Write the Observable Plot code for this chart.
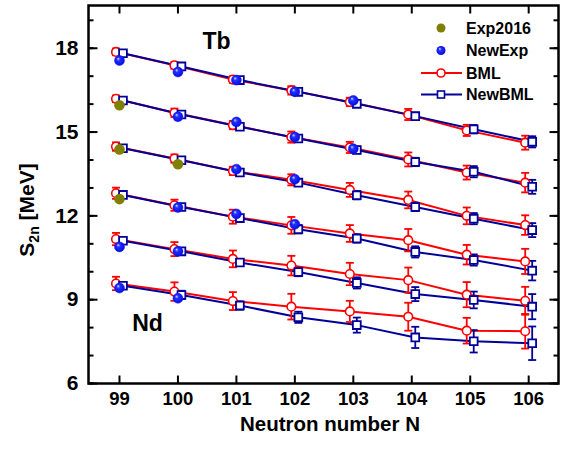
<!DOCTYPE html>
<html>
<head>
<meta charset="utf-8">
<script src="https://cdn.jsdelivr.net/npm/d3@7"></script>
<script src="https://cdn.jsdelivr.net/npm/@observablehq/plot@0.6"></script>
<style>
  body { margin: 0; background: #fff; }
  #chart { width: 568px; height: 452px; }
</style>
</head>
<body>
<div id="chart"></div>
<script>
// ---- data ----
const neutronN = [99, 100, 101, 102, 103, 104, 105, 106];
const chains = ["Tb", "Gd", "Eu", "Sm", "Pm", "Nd"];

// BML predictions (MeV)
const bmlTb = [17.87, 17.39, 16.88, 16.49, 16.08, 15.63, 15.06, 14.62];
const bmlGd = [16.19, 15.69, 15.25, 14.82, 14.45, 14.02, 13.55, 13.19];
const bmlEu = [14.48, 14.05, 13.61, 13.29, 12.93, 12.57, 12.00, 11.67];
const bmlSm = [12.81, 12.38, 11.97, 11.66, 11.37, 11.13, 10.61, 10.37];
const bmlPm = [11.17, 10.81, 10.46, 10.22, 9.92, 9.70, 9.18, 8.96];
const bmlNd = [9.58, 9.29, 8.95, 8.75, 8.58, 8.39, 7.89, 7.87];

// BML uncertainties
const bmlErrTb = [0.12, 0.12, 0.12, 0.15, 0.15, 0.20, 0.20, 0.25];
const bmlErrGd = [0.12, 0.15, 0.15, 0.20, 0.20, 0.25, 0.25, 0.35];
const bmlErrEu = [0.15, 0.15, 0.15, 0.20, 0.25, 0.30, 0.30, 0.35];
const bmlErrSm = [0.20, 0.20, 0.25, 0.30, 0.30, 0.40, 0.35, 0.45];
const bmlErrPm = [0.22, 0.25, 0.30, 0.35, 0.40, 0.45, 0.45, 0.50];
const bmlErrNd = [0.24, 0.33, 0.32, 0.46, 0.38, 0.50, 0.46, 0.62];

// NewBML predictions (MeV)
const newBmlTb = [17.82, 17.35, 16.86, 16.44, 16.01, 15.57, 15.10, 14.65];
const newBmlGd = [16.13, 15.63, 15.19, 14.77, 14.36, 13.93, 13.58, 13.04];
const newBmlEu = [14.42, 13.99, 13.55, 13.19, 12.74, 12.32, 11.90, 11.49];
const newBmlSm = [12.75, 12.32, 11.92, 11.52, 11.19, 10.71, 10.42, 10.04];
const newBmlPm = [11.11, 10.73, 10.33, 9.99, 9.60, 9.20, 8.99, 8.75];
const newBmlNd = [9.50, 9.17, 8.79, 8.37, 8.09, 7.65, 7.51, 7.44];

// NewBML uncertainties
const newBmlErrTb = [0.08, 0.08, 0.08, 0.10, 0.10, 0.12, 0.15, 0.20];
const newBmlErrGd = [0.08, 0.10, 0.10, 0.12, 0.12, 0.15, 0.20, 0.25];
const newBmlErrEu = [0.08, 0.10, 0.10, 0.12, 0.15, 0.15, 0.20, 0.25];
const newBmlErrSm = [0.10, 0.10, 0.12, 0.15, 0.15, 0.20, 0.20, 0.35];
const newBmlErrPm = [0.10, 0.12, 0.12, 0.15, 0.20, 0.25, 0.30, 0.45];
const newBmlErrNd = [0.10, 0.15, 0.15, 0.20, 0.27, 0.38, 0.40, 0.60];

// New experimental values [N, S2n]
const newExpTb = [[99, 17.56], [100, 17.15], [101, 16.86], [102, 16.44], [103, 16.13]];
const newExpGd = [[100, 15.55], [101, 15.36], [102, 14.82], [103, 14.40]];
const newExpEu = [[101, 13.67], [102, 13.31]];
const newExpSm = [[100, 12.30], [101, 12.07], [102, 11.70]];
const newExpPm = [[99, 10.89], [100, 10.73]];
const newExpNd = [[99, 9.42], [100, 9.05]];

// Exp2016 (AME2016) values [N, S2n]
const exp2016Gd = [[99, 15.96]];
const exp2016Eu = [[99, 14.38], [100, 13.85]];
const exp2016Sm = [[99, 12.60]];

// chain labels [label, N, S2n]
const chainLabels = [["Tb", 100.66, 18.25], ["Nd", 99.48, 8.14]];

const yMajor = [6, 9, 12, 15, 18];
const yMinor = d3.range(6, 20, 1);

// ---- tables ----
const bmlAll = [bmlTb, bmlGd, bmlEu, bmlSm, bmlPm, bmlNd];
const bmlErrAll = [bmlErrTb, bmlErrGd, bmlErrEu, bmlErrSm, bmlErrPm, bmlErrNd];
const newBmlAll = [newBmlTb, newBmlGd, newBmlEu, newBmlSm, newBmlPm, newBmlNd];
const newBmlErrAll = [newBmlErrTb, newBmlErrGd, newBmlErrEu, newBmlErrSm, newBmlErrPm, newBmlErrNd];
const newExpAll = [newExpTb, newExpGd, newExpEu, newExpSm, newExpPm, newExpNd];
const exp2016All = [[], exp2016Gd, exp2016Eu, exp2016Sm, [], []];

const bml = [], newBml = [], newExp = [], exp2016 = [];
chains.forEach((c, i) => {
  neutronN.forEach((n, j) => {
    bml.push({chain: c, N: n, S: bmlAll[i][j], e: bmlErrAll[i][j]});
    newBml.push({chain: c, N: n, S: newBmlAll[i][j], e: newBmlErrAll[i][j]});
  });
  newExpAll[i].forEach(([n, s]) => newExp.push({chain: c, N: n, S: s}));
  exp2016All[i].forEach(([n, s]) => exp2016.push({chain: c, N: n, S: s}));
});

// ---- symbols ----
const capSym = {draw(ctx) { ctx.moveTo(-4, 0); ctx.lineTo(4, 0); }};
const lineSym = (dx, dy) => ({draw(ctx) { ctx.moveTo(0, 0); ctx.lineTo(dx, dy); }});

const RED = "#ff0000", NAVY = "#000099", OLIVE = "#808000";
const defs = () => {
  const d = d3.create("svg:defs");
  const g = d.append("radialGradient").attr("id", "ball").attr("cx", "0.5").attr("cy", "0.5").attr("r", "0.6").attr("fx", "0.35").attr("fy", "0.3");
  g.append("stop").attr("offset", "0%").attr("stop-color", "#d0d8ff");
  g.append("stop").attr("offset", "30%").attr("stop-color", "#2233ff");
  g.append("stop").attr("offset", "100%").attr("stop-color", "#0000d8");
  return d.node();
};

const errMarks = (data, color, dx) => [
  Plot.ruleX(data, {x: "N", y1: d => d.S - d.e, y2: d => d.S + d.e, stroke: color, strokeWidth: 1.8, dx}),
  Plot.dot(data, {x: "N", y: d => d.S - d.e, symbol: capSym, r: 4, stroke: color, strokeWidth: 1.8, fill: "none", dx}),
  Plot.dot(data, {x: "N", y: d => d.S + d.e, symbol: capSym, r: 4, stroke: color, strokeWidth: 1.8, fill: "none", dx})
];

const font = "'Liberation Sans', Arial, Helvetica, sans-serif";

const plot = Plot.plot({
  width: 568,
  height: 452,
  marginLeft: 88,
  marginRight: 10,
  marginTop: 5,
  marginBottom: 69,
  style: {fontFamily: font, background: "#fff", color: "#000", overflow: "visible"},
  x: {domain: [98.47, 106.51], axis: null},
  y: {domain: [6, 19.53], axis: null},
  marks: [
    defs,
    // lines
    Plot.line(bml, {x: "N", y: "S", z: "chain", stroke: RED, strokeWidth: 2, dx: -3.5}),
    Plot.line(newBml, {x: "N", y: "S", z: "chain", stroke: NAVY, strokeWidth: 2, dx: 3.5}),
    ...errMarks(bml, RED, -3.5),
    ...errMarks(newBml, NAVY, 3.5),
    Plot.dot(bml, {x: "N", y: "S", r: 4.3, stroke: RED, strokeWidth: 1.6, fill: "#fff", dx: -3.5}),
    Plot.dot(newBml, {x: "N", y: "S", symbol: "square", r: 4.4, stroke: NAVY, strokeWidth: 1.8, fill: "#fff", dx: 3.5}),
    Plot.dot(newExp, {x: "N", y: "S", r: 5, fill: "url(#ball)", stroke: "#1a1aff", strokeWidth: 0.5}),
    Plot.dot(exp2016, {x: "N", y: "S", r: 5.3, fill: OLIVE}),
    Plot.text(chainLabels, {x: d => d[1], y: d => d[2], text: d => d[0], fontSize: 23, fontWeight: "bold", fill: "#000"}),
    // ticks (inward)
    Plot.dot(yMinor, {y: d => d, frameAnchor: "left", symbol: lineSym(5, 0), r: 1, stroke: "#000", strokeWidth: 2}),
    Plot.dot(yMajor, {y: d => d, frameAnchor: "left", symbol: lineSym(9, 0), r: 1, stroke: "#000", strokeWidth: 2}),
    Plot.dot(yMinor, {y: d => d, frameAnchor: "right", symbol: lineSym(-5, 0), r: 1, stroke: "#000", strokeWidth: 2}),
    Plot.dot(yMajor, {y: d => d, frameAnchor: "right", symbol: lineSym(-9, 0), r: 1, stroke: "#000", strokeWidth: 2}),
    Plot.dot(neutronN, {x: d => d, frameAnchor: "bottom", symbol: lineSym(0, -8), r: 1, stroke: "#000", strokeWidth: 2}),
    Plot.dot(neutronN, {x: d => d, frameAnchor: "top", symbol: lineSym(0, 8), r: 1, stroke: "#000", strokeWidth: 2}),
    Plot.frame({stroke: "#000", strokeWidth: 2.5}),
    // tick labels
    Plot.axisY({ticks: yMajor, tickSize: 0, tickPadding: 10, fontSize: 21, fontWeight: "bold", label: null}),
    Plot.axisX({ticks: neutronN, tickSize: 0, tickPadding: 8, fontSize: 18.5, fontWeight: "bold", label: null})
  ]
});

document.getElementById("chart").appendChild(plot);

// axis titles and legend
const svg = d3.select(plot);
svg.append("text")
  .attr("x", 330).attr("y", 431)
  .attr("text-anchor", "middle")
  .attr("font-size", 20.5).attr("font-weight", "bold").attr("font-family", font)
  .text("Neutron number N");

const yl = svg.append("text")
  .attr("transform", "translate(34,210) rotate(-90)")
  .attr("text-anchor", "middle")
  .attr("font-size", 21).attr("font-weight", "bold").attr("font-family", font);
yl.append("tspan").text("S");
yl.append("tspan").attr("font-size", 14).attr("dy", 5).text("2n");
yl.append("tspan").attr("dy", -5).text(" [MeV]");

const lg = svg.append("g").attr("font-family", font).attr("font-size", 16).attr("font-weight", "bold").attr("text-anchor", "start");
const legendItems = ["Exp2016", "NewExp", "BML", "NewBML"];
const rows = [28, 50.5, 73, 94.5];
legendItems.forEach((t, i) => {
  lg.append("text").attr("x", 466).attr("y", rows[i]).attr("dy", "0.36em").attr("text-anchor", "start").text(t);
});
lg.append("circle").attr("cx", 441).attr("cy", rows[0]).attr("r", 4.5).attr("fill", OLIVE);
lg.append("circle").attr("cx", 441).attr("cy", rows[1]).attr("r", 4.5).attr("fill", "url(#ball)");
lg.append("line").attr("x1", 421).attr("x2", 462).attr("y1", rows[2]).attr("y2", rows[2]).attr("stroke", RED).attr("stroke-width", 1.8);
lg.append("circle").attr("cx", 441).attr("cy", rows[2]).attr("r", 4).attr("fill", "#fff").attr("stroke", RED).attr("stroke-width", 1.6);
lg.append("line").attr("x1", 421).attr("x2", 462).attr("y1", rows[3]).attr("y2", rows[3]).attr("stroke", NAVY).attr("stroke-width", 1.8);
lg.append("rect").attr("x", 437.5).attr("y", rows[3] - 3.5).attr("width", 7).attr("height", 7).attr("fill", "#fff").attr("stroke", NAVY).attr("stroke-width", 1.6);
</script>
</body>
</html>
